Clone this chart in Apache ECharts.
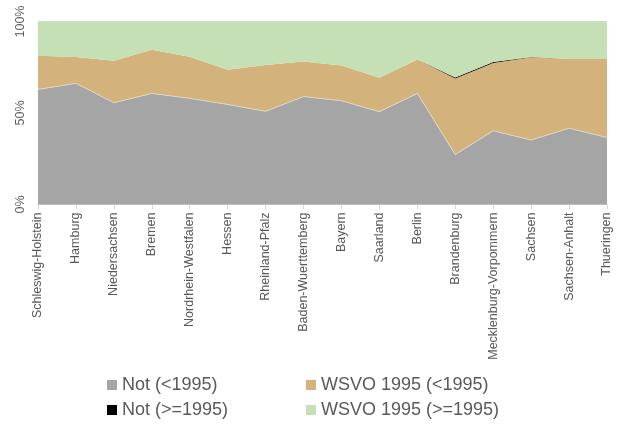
<!DOCTYPE html>
<html>
<head>
<meta charset="utf-8">
<script src="https://cdn.jsdelivr.net/npm/echarts@6/dist/echarts.min.js"></script>
<style>
  html, body { margin: 0; padding: 0; background: #fff; }
  #chart { width: 628px; height: 425px; }
</style>
</head>
<body>
<div id="chart"></div>
<script>
const states = ['Schleswig-Holstein', 'Hamburg', 'Niedersachsen', 'Bremen', 'Nordrhein-Westfalen', 'Hessen',
  'Rheinland-Pfalz', 'Baden-Wuerttemberg', 'Bayern', 'Saarland', 'Berlin', 'Brandenburg',
  'Mecklenburg-Vorpommern', 'Sachsen', 'Sachsen-Anhalt', 'Thueringen'];
// shares in percent
const notOld = [62.9, 66.2, 55.6, 60.7, 58.0, 54.7, 50.9, 59.0, 56.7, 50.7, 60.7, 27.3, 40.3, 35.2, 41.7, 36.6];
const wsvoOld = [18.4, 14.4, 23.0, 23.9, 22.7, 18.9, 25.3, 19.2, 19.3, 18.6, 18.6, 41.6, 37.0, 45.3, 37.8, 42.9];
const notNew = [0, 0, 0, 0, 0, 0, 0, 0, 0, 0, 0, 0.5, 0.6, 0.1, 0, 0];
const wsvoNew = [18.7, 19.4, 21.4, 15.4, 19.3, 26.4, 23.8, 21.8, 24.0, 30.7, 20.7, 30.6, 22.1, 19.4, 20.5, 20.5];

const chart = echarts.init(document.getElementById('chart'));

const font = 'Liberation Sans, Arial, sans-serif';

function areaSeries(name, data, color, line) {
  return {
    name: name,
    type: 'line',
    stack: 'total',
    data: data,
    showSymbol: false,
    symbol: 'none',
    color: color,
    lineStyle: line || { width: 0 },
    areaStyle: { color: color, opacity: 1 },
  };
}

function legendBox(left, names) {
  return {
    left: left,
    top: 375,
    padding: 0,
    orient: 'vertical',
    itemWidth: 10,
    itemHeight: 10,
    itemGap: 5,
    icon: 'rect',
    data: names,
    textStyle: { fontSize: 18, lineHeight: 20, color: '#595959', fontFamily: font },
  };
}

const option = {
  animation: false,
  textStyle: { fontFamily: font },
  grid: {
    left: 38,
    right: 21,
    top: 21.5,
    bottom: 220.5,
  },
  legend: [
    legendBox(107, ['Not (<1995)', 'Not (>=1995)']),
    legendBox(306, ['WSVO 1995 (<1995)', 'WSVO 1995 (>=1995)']),
  ],
  xAxis: {
    type: 'category',
    boundaryGap: false,
    data: states,
    axisLine: { lineStyle: { color: '#d9d9d9' } },
    axisTick: { show: true, length: 5, lineStyle: { color: '#d9d9d9' } },
    axisLabel: {
      rotate: 90,
      interval: 0,
      fontSize: 12.5,
      color: '#595959',
      fontFamily: font,
      margin: 8,
    },
  },
  yAxis: {
    type: 'value',
    min: 0,
    max: 100,
    interval: 50,
    axisLine: { show: false },
    axisTick: { show: false },
    splitLine: { lineStyle: { color: '#d9d9d9' } },
    axisLabel: {
      formatter: '{value}%',
      rotate: 90,
      fontSize: 12.5,
      color: '#595959',
      fontFamily: font,
      margin: 11,
    },
  },
  series: [
    areaSeries('Not (<1995)', notOld, '#a5a5a5', { width: 1, color: '#ddd6c8' }),
    areaSeries('WSVO 1995 (<1995)', wsvoOld, '#d3b27b'),
    areaSeries('Not (>=1995)', notNew, '#000000'),
    areaSeries('WSVO 1995 (>=1995)', wsvoNew, '#c5e0b4'),
  ],
};

chart.setOption(option);
</script>
</body>
</html>
